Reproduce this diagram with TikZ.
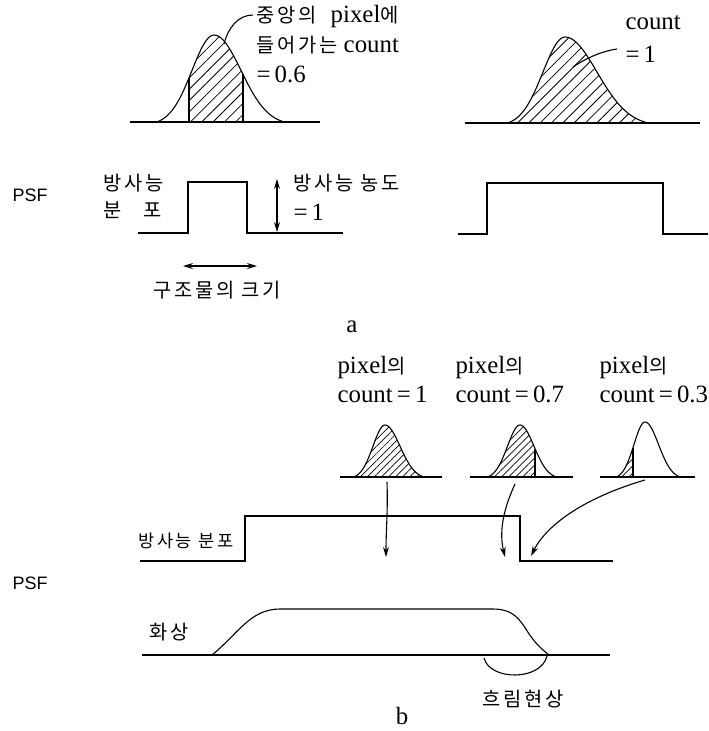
\documentclass[tikz,border=0pt]{standalone}
\usepackage{fontspec}
\setmainfont{Liberation Serif}[Scale=1.38]
\newfontfamily\krfont{Noto Sans CJK KR}[Scale=1.1, LetterSpace=14]
\newfontfamily\psffont{Liberation Sans}
\usetikzlibrary{arrows.meta,patterns.meta,calc}

\newcommand{\ko}[1]{{\krfont #1}}
% bell curve path: centre, base, height, left and right width
\newcommand{\bellcurve}[5]{%
  plot[domain=-2.6:0,samples=30] ({#1+#4*\x},{#2-#3*(exp(-0.5*\x*\x)-0.034)/0.966})
  -- plot[domain=0:2.6,samples=30] ({#1+#5*\x},{#2-#3*(exp(-0.5*\x*\x)-0.034)/0.966})}
% hatched bell, hatching kept between the last two values
\newcommand{\bell}[8][hatchA]{%
  \begin{scope}
    \clip (#7,#3) rectangle (#8,{#3-#4-6});
    \fill[#1] \bellcurve{#2}{#3}{#4}{#5}{#6} -- cycle;
  \end{scope}
  \draw \bellcurve{#2}{#3}{#4}{#5}{#6};}
\newcommand{\cutline}[5]{%
  \draw (#5,#2) -- (#5,{#2-#3*(exp(-0.5*((#5-#1)/#4)^2)-0.034)/0.966});}

\begin{document}
\begin{tikzpicture}[x=1pt, y=-1pt, line width=1.1pt,
  txt/.style={inner sep=0pt, align=left, font=\fontsize{18}{30}\selectfont},
  psf/.style={inner sep=0pt, font=\psffont\fontsize{18}{20}\selectfont},
  hatchA/.style={pattern={Lines[angle=45,distance=8pt,line width=0.8pt]}},
  hatchB/.style={pattern={Lines[angle=45,distance=5pt,line width=0.7pt]}},
  arr/.style={-{Stealth[length=10pt,width=6pt]}},
  dbl/.style={{Stealth[length=10pt,width=6pt]}-{Stealth[length=10pt,width=6pt]}}]
\useasboundingbox (0,0) rectangle (709,731);
\clip (0,0) rectangle (709,731);

% ---- a ----
\draw (130,122) -- (320,122);
\bell{214}{122}{87}{22}{27}{189}{243}
\cutline{214}{122}{87}{22}{189}
\cutline{214}{122}{87}{27}{243}
\node[txt, anchor=north west] (ctrlbl) at (256,5) {\ko{중앙의}\hspace{14pt}pixel\ko{에}\\\ko{들어가는}\hspace{6pt}count\\=\,0.6};
\coordinate (lead1) at (224,44);
\draw (lead1) .. controls (228,28) and (238,15) .. ($(ctrlbl.north west)+(-3,10)$);

\draw (465,123) -- (700,123);
\bell{565}{123}{86}{22}{32}{500}{660}
\node[txt, anchor=north west, font=\fontsize{18}{33}\selectfont] (onelbl) at (625,15) {count\\=\,1};
\coordinate (lead2) at (573,67);
\draw (lead2) .. controls (588,57) and (603,51) .. ($(onelbl.north west)+(-8,34)$);

\node[psf, anchor=west] (psfa) at (12,195) {PSF};
\node[txt, anchor=north west, font=\fontsize{18}{27}\selectfont] (distlbl) at (103,174) {\ko{방사능}\\\ko{분\hspace{22pt}포}};
\draw (138,233) -- (188,233) |- (247,182) -- (247,233) -- (343,233);
\coordinate (conctop) at (277,179);
\coordinate (concbot) at (277,232);
\draw[dbl] (conctop) -- (concbot);
\node[txt, anchor=north west] (conclbl) at (293,174) {\ko{방사능 농도}\\=\,1};
\coordinate (sizel) at (183,266);
\coordinate (sizer) at (257,266);
\draw[dbl] (sizel) -- (sizer);
\node[txt] (sizelbl) at (217,290) {\ko{구조물의 크기}};

\draw (458,234) -- (487,234) |- (663,183) -- (663,234) -- (708,234);
\node[txt] (capa) at (352,327) {a};

% ---- b ----
\node[txt, anchor=north west, font=\fontsize{18}{29}\selectfont] (pix1) at (337,356) {pixel\ko{의}\\count\,=\,1};
\node[txt, anchor=north west, font=\fontsize{18}{29}\selectfont] (pix2) at (455,356) {pixel\ko{의}\\count\,=\,0.7};
\node[txt, anchor=north west, font=\fontsize{18}{29}\selectfont] (pix3) at (599,356) {pixel\ko{의}\\count\,=\,0.3};

\draw (340,477) -- (442,477);
\bell[hatchB]{385}{477}{52}{12}{15}{350}{430}
\draw (470,477) -- (573,477);
\bell[hatchB]{520}{477}{52}{12.5}{14}{480}{535}
\cutline{520}{477}{52}{14}{535}
\draw (600,477) -- (695,477);
\bell[hatchB]{645}{477}{55}{11}{13.5}{610}{633}
\cutline{645}{477}{55}{11}{633}

\node[txt, anchor=west, font=\fontsize{16}{20}\selectfont] (distlblb) at (138,541) {\ko{방사능 분포}};
\draw (140,561) -- (245,561) |- (520,516) -- (520,561) -- (613,561);
\node[psf, anchor=west] (psfb) at (12,583) {PSF};

\coordinate (from1) at (387,482);
\coordinate (to1) at (386,557);
\coordinate (from2) at (515,484);
\coordinate (to2) at (505,557);
\coordinate (from3) at (645,480);
\coordinate (to3) at (531,556);
\draw[arr] (from1) .. controls (388,510) and (386,530) .. (to1);
\draw[arr] (from2) .. controls (503,510) and (499,532) .. (to2);
\draw[arr] (from3) .. controls (590,496) and (548,522) .. (to3);

\node[txt, anchor=west] (imglbl) at (149,632) {\ko{화\hspace{3pt}상}};
\draw (142,655) -- (610,655);
\draw (212,655) .. controls (238,634) and (250,609) .. (280,609) -- (493,609)
  .. controls (518,609) and (522,625) .. (532,638) .. controls (538,646) and (544,651) .. (549,655);
\draw (484,658) .. controls (490,681) and (541,681) .. (547,656);
\node[txt] (blurlbl) at (523,699) {\ko{흐림현상}};
\node[txt] (capb) at (402,716) {b};
\end{tikzpicture}
\end{document}
